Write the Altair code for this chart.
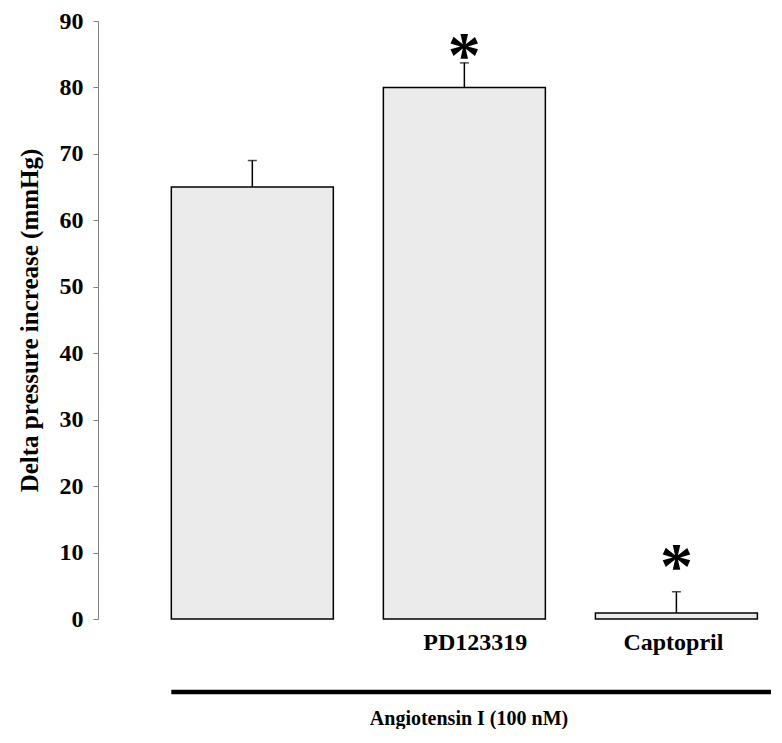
import altair as alt
import pandas as pd

categories = [" ", "PD123319", "Captopril"]
means = [65.0, 80.0, 0.9]
err_upper = [69.0, 83.7, 4.1]
star_y = [None, 86.3, 9.3]
y_ticks = [0, 10, 20, 30, 40, 50, 60, 70, 80, 90]
group_label = "Angiotensin I (100 nM)"
y_title = "Delta pressure increase (mmHg)"

df = pd.DataFrame({"cat": categories, "mean": means, "upper": err_upper, "star": star_y})
df["mark"] = ["" if v is None else "*" for v in star_y]

FONT = "Liberation Serif"
W, H = 673, 598

xscale = alt.Scale(domain=categories, paddingInner=0.236, paddingOuter=0.205, align=0.8435)
yscale = alt.Scale(domain=[0, 90], nice=False, zero=True)

xenc = alt.X("cat:N", sort=categories, scale=xscale,
             axis=alt.Axis(title=None, domain=False, ticks=False, labelAngle=0,
                           labelFont=FONT, labelFontSize=24, labelFontWeight="bold",
                           labelColor="black", labelPadding=11,
                           labelOffset={"condition": {"test": "datum.value === 'PD123319'", "value": 11},
                                        "value": -3}))

bars = alt.Chart(df).mark_bar(fill="#ebebeb", stroke="black", strokeWidth=1.5).encode(
    x=xenc,
    y=alt.Y("mean:Q", scale=yscale,
            axis=alt.Axis(title=y_title, values=y_ticks, grid=False,
                          domainColor="#808080", tickColor="#808080", tickSize=5,
                          labelFont=FONT, labelFontSize=24, labelFontWeight="bold",
                          labelColor="black", labelPadding=10,
                          titleFont=FONT, titleFontSize=25, titleFontWeight="bold",
                          titleColor="black", titlePadding=17)),
)

err = alt.Chart(df).mark_rule(color="black", strokeWidth=1.5).encode(
    x=alt.X("cat:N", sort=categories, scale=xscale),
    y=alt.Y("mean:Q", scale=yscale),
    y2="upper:Q",
)

caps = alt.Chart(df).mark_tick(color="black", thickness=1.5, size=9).encode(
    x=alt.X("cat:N", sort=categories, scale=xscale),
    y=alt.Y("upper:Q", scale=yscale),
)

stars = alt.Chart(df[df["mark"] != ""]).mark_text(
    font=FONT, fontSize=66, fontWeight="bold", color="black", baseline="alphabetic", dy=31
).encode(
    x=alt.X("cat:N", sort=categories, scale=xscale),
    y=alt.Y("star:Q", scale=yscale),
    text="mark:N",
)

line_df = pd.DataFrame({"cat": [categories[0]], "label": [group_label]})
group_line = alt.Chart(line_df).mark_rule(color="black", strokeWidth=4.7).encode(
    x=alt.X("cat:N", sort=categories, scale=xscale, bandPosition=0),
    x2=alt.value(W),
    y=alt.value(671),
)

group_text = alt.Chart(line_df).mark_text(
    font=FONT, fontSize=20, fontWeight="bold", color="black", baseline="alphabetic"
).encode(
    x=alt.value(371),
    y=alt.value(704),
    text="label:N",
)

chart = alt.layer(bars, err, caps, stars, group_line, group_text).properties(
    width=W, height=H,
    autosize=alt.AutoSizeParams(type="none"),
    padding={"left": 90, "top": 13, "right": 2, "bottom": 110},
).configure_view(stroke=None)

chart.save("out.html", embed_options={"renderer": "svg", "actions": False})
